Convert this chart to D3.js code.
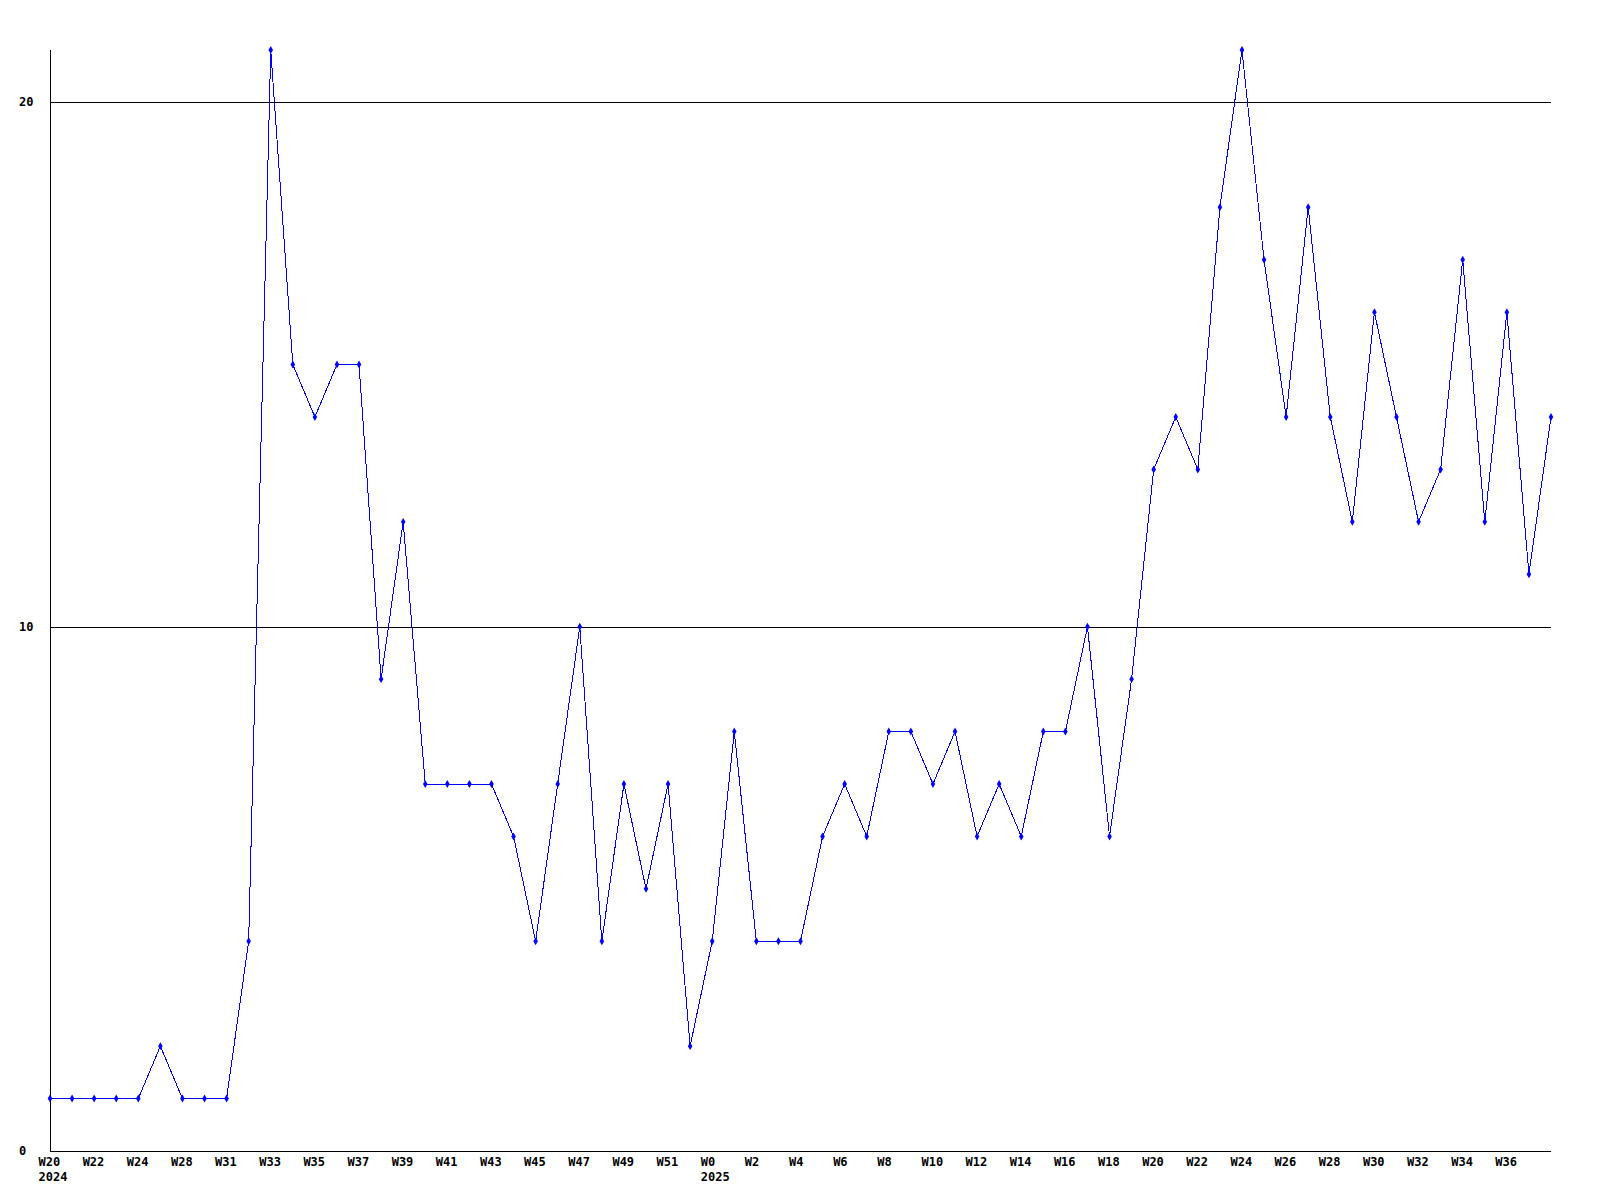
<!DOCTYPE html>
<html>
<head>
<meta charset="utf-8">
<script src="https://cdn.jsdelivr.net/npm/d3@7"></script>
<style>
  body { margin: 0; background: #fff; }
  text { font-family: "DejaVu Sans Mono", "Liberation Mono", monospace; font-weight: bold; font-size: 12px; }
</style>
</head>
<body>
<div id="chart"></div>
<script>
// week labels, one per data point (only weeks that have data)
var weeks = ["W20","W21","W22","W23","W24","W26","W28","W30","W31","W32",
             "W33","W34","W35","W36","W37","W38","W39","W40","W41","W42",
             "W43","W44","W45","W46","W47","W48","W49","W50","W51","W52",
             "W0","W1","W2","W3","W4","W5","W6","W7","W8","W9",
             "W10","W11","W12","W13","W14","W15","W16","W17","W18","W19",
             "W20","W21","W22","W23","W24","W25","W26","W27","W28","W29",
             "W30","W31","W32","W33","W34","W35","W36","W37","W38"];

var counts = [1,1,1,1,1,2,1,1,1,4,
              21,15,14,15,15,9,12,7,7,7,
              7,6,4,7,10,4,7,5,7,2,
              4,8,4,4,4,6,7,6,8,8,
              7,8,6,7,6,8,8,10,6,9,
              13,14,13,18,21,17,14,18,14,12,
              16,14,12,13,17,12,16,11,14];

// year labels sit under the first week of each year
var yearLabels = [{index: 0, text: "2024"}, {index: 30, text: "2025"}];
var yTicks = [0, 10, 20];

function init(){
    var w = 1600;
    var h = 1200;
    var left = 50, right = 1551, top = 50, bottom = 1151;

    var svg = d3.select("#chart")
                .append("svg")
                .attr("width", w)
                .attr("height", h);

    var xScale = d3.scalePoint()
                .domain(d3.range(counts.length))
                .range([left, right]);

    var yScale = d3.scaleLinear()
                .domain([0, 21])
                .range([bottom, top]);

    //horizontal grid lines
    svg.selectAll(".grid")
    .data(yTicks.filter(function(d){ return d > 0; }))
    .enter()
    .append("line")
    .attr("x1", left)
    .attr("x2", right)
    .attr("y1", function(d){ return Math.round(yScale(d)) + 0.5; })
    .attr("y2", function(d){ return Math.round(yScale(d)) + 0.5; })
    .attr("stroke", "#000")
    .attr("stroke-width", 1);

    //axis lines
    svg.append("line")
    .attr("x1", left + 0.5).attr("x2", left + 0.5)
    .attr("y1", top).attr("y2", bottom + 0.5)
    .attr("stroke", "#000");
    svg.append("line")
    .attr("x1", left).attr("x2", right)
    .attr("y1", bottom + 0.5).attr("y2", bottom + 0.5)
    .attr("stroke", "#000");

    //y labels
    svg.selectAll(".ylab")
    .data(yTicks)
    .enter()
    .append("text")
    .text(function(d){ return d; })
    .attr("x", 19)
    .attr("y", function(d){ return yScale(d) + 4; })
    .attr("fill", "#000");

    //x labels, every other point
    svg.selectAll(".xlab")
    .data(weeks.filter(function(d, i){ return i % 2 === 0 && i < 68; }))
    .enter()
    .append("text")
    .text(function(d){ return d; })
    .attr("x", function(d, i){ return xScale(i * 2) - 11.5; })
    .attr("y", 1166)
    .attr("fill", "#000");

    svg.selectAll(".year")
    .data(yearLabels)
    .enter()
    .append("text")
    .text(function(d){ return d.text; })
    .attr("x", function(d){ return xScale(d.index) - 11.5; })
    .attr("y", 1181)
    .attr("fill", "#000");

    //data line
    var line = d3.line()
                .x(function(d, i){ return xScale(i); })
                .y(function(d){ return yScale(d); });

    svg.append("path")
    .datum(counts)
    .attr("d", line)
    .attr("fill", "none")
    .attr("stroke", "#0000ff")
    .attr("stroke-width", 1)
    .attr("shape-rendering", "crispEdges");

    //markers
    svg.selectAll(".pt")
    .data(counts)
    .enter()
    .append("path")
    .attr("d", d3.symbol().type(d3.symbolDiamond).size(18))
    .attr("transform", function(d, i){
        return "translate(" + xScale(i) + "," + yScale(d) + ")";
    })
    .attr("fill", "#0000ff");
}
window.onload = init;
</script>
</body>
</html>
